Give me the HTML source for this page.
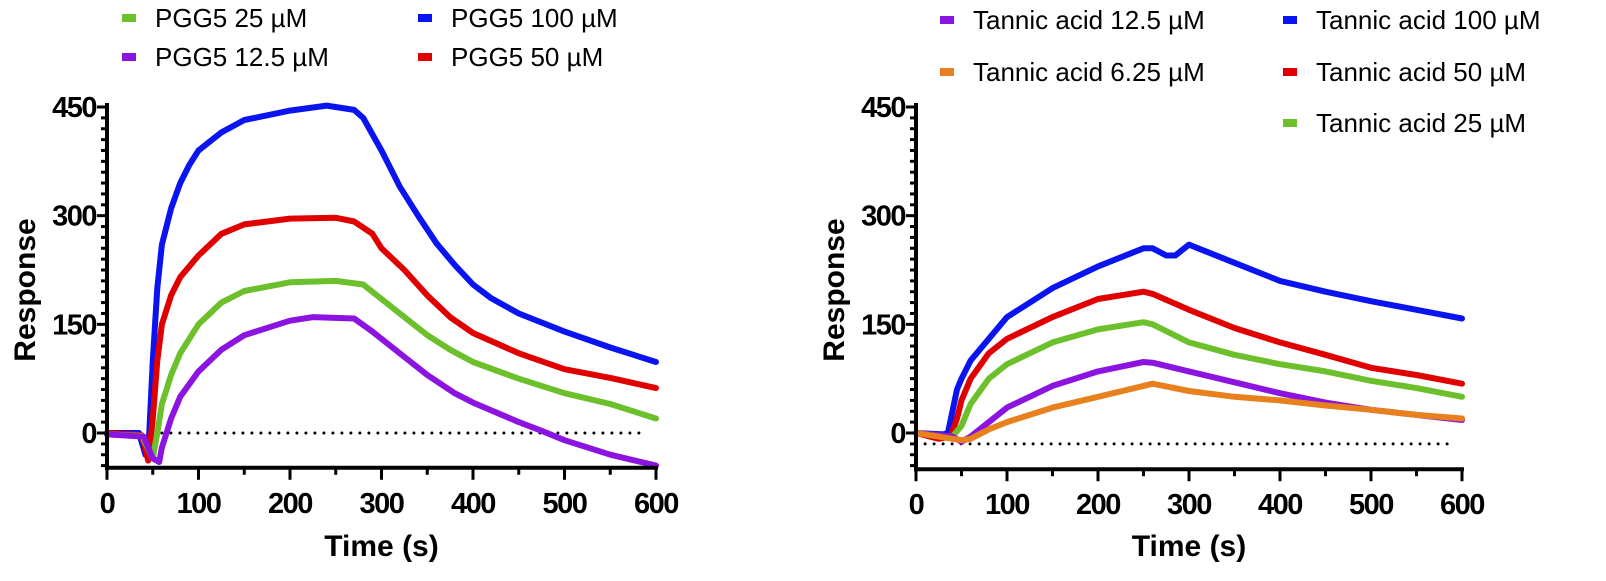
<!DOCTYPE html>
<html><head><meta charset="utf-8">
<style>
body{margin:0;background:#fff;}
svg{display:block;font-family:"Liberation Sans",sans-serif;}
.tk{font-weight:bold;font-size:29px;letter-spacing:-1.5px;}
.tt{font-weight:bold;font-size:30px;}
.lg{font-size:26px;}
</style></head>
<body>
<svg id="c" width="1606" height="581" viewBox="0 0 1606 581"></svg>
<script>
// Left panel (PGG5) data
const pggLabels = ["PGG5 100 µM","PGG5 50 µM","PGG5 25 µM","PGG5 12.5 µM"];
const pggColors = ["#0a14f0","#e00000","#6cc02c","#8c14e0"];
const pgg100 = [[0,0],[35,0],[42,-30],[45,-30],[50,100],[55,200],[60,260],[70,310],[80,345],[90,370],[100,390],[125,415],[150,432],[200,445],[240,452],[270,446],[280,435],[300,390],[320,340],[340,300],[360,262],[380,232],[400,205],[420,186],[450,165],[500,140],[550,118],[600,98]];
const pgg50 = [[0,0],[38,-3],[45,-38],[50,20],[55,100],[60,150],[70,190],[80,215],[100,245],[125,275],[150,288],[200,296],[250,297],[270,292],[290,275],[300,255],[325,225],[350,190],[375,160],[400,138],[450,110],[500,88],[550,76],[600,62]];
const pgg25 = [[0,-2],[38,-4],[50,-35],[55,0],[60,40],[70,80],[80,110],[100,150],[125,180],[150,196],[200,208],[250,210],[280,205],[300,185],[325,160],[350,135],[375,115],[400,98],[450,75],[500,55],[550,40],[600,20]];
const pgg12 = [[0,-2],[40,-5],[50,-35],[57,-40],[60,-20],[70,20],[80,50],[100,85],[125,115],[150,135],[200,155],[225,160],[270,158],[290,140],[320,110],[350,80],[380,55],[400,42],[450,15],[475,3],[500,-10],[550,-30],[600,-45]];
// Right panel (Tannic acid) data
const taLabels = ["Tannic acid 100 µM","Tannic acid 50 µM","Tannic acid 25 µM","Tannic acid 12.5 µM","Tannic acid 6.25 µM"];
const taColors = ["#0a14f0","#e00000","#6cc02c","#8c14e0","#e8801e"];
const ta100 = [[0,0],[30,-2],[35,0],[45,60],[50,75],[60,100],[80,130],[100,160],[125,180],[150,200],[200,230],[250,255],[260,255],[275,245],[285,245],[300,260],[310,255],[350,235],[400,210],[450,195],[500,182],[550,170],[600,158]];
const ta50 = [[0,0],[25,-8],[38,-5],[45,20],[50,45],[60,75],[80,110],[100,130],[150,160],[200,185],[250,195],[260,192],[300,170],[350,145],[400,125],[450,108],[500,90],[550,80],[600,68]];
const ta25 = [[0,0],[40,-5],[50,10],[60,40],[80,75],[100,95],[150,125],[200,143],[250,153],[260,150],[300,125],[350,108],[400,95],[450,85],[500,72],[550,62],[600,50]];
const ta12 = [[0,0],[40,-5],[50,-12],[60,-5],[80,15],[100,35],[150,65],[200,85],[250,98],[260,97],[300,85],[350,70],[400,55],[450,42],[500,32],[550,25],[600,18]];
const ta6 = [[0,0],[50,-10],[60,-8],[80,5],[100,15],[150,35],[200,50],[250,65],[260,68],[300,58],[350,50],[400,45],[450,38],[500,32],[550,25],[600,20]];
const xTicks = [0,100,200,300,400,500,600];
const yTicks = [0,150,300,450];

const NS="http://www.w3.org/2000/svg";
const svg=document.getElementById('c');
function el(t,a,p){const e=document.createElementNS(NS,t);for(const k in a)e.setAttribute(k,a[k]);(p||svg).appendChild(e);return e;}

function panel(name,x0,x1,yBot,refY,series,colors,labels){
  const g=el('g',{});
  
  
  const y0=433,y450=107;
  const sx=v=>x0+(v/600)*(x1-x0);
  const sy=v=>y0-(v/450)*(y0-y450);
  const axB=sy(yBot);
  const d=el('line',{x1:sx(refY[1]),x2:sx(refY[2]),y1:sy(refY[0]),y2:sy(refY[0]),stroke:'#000','stroke-width':3,'stroke-dasharray':'0 9','stroke-linecap':'round'},g);
  
  
  series.forEach((s,i)=>{
    const p=el('polyline',{points:s.map(q=>sx(q[0]).toFixed(1)+','+sy(q[1]).toFixed(1)).join(' '),fill:'none',stroke:colors[i],'stroke-width':6,'stroke-linejoin':'round','stroke-linecap':'round'},g);
    
    
  });
  el('line',{x1:x0,x2:x0,y1:y450-4,y2:axB+2,stroke:'#000','stroke-width':4},g);
  el('line',{x1:x0-2,x2:x1+2,y1:axB,y2:axB,stroke:'#000','stroke-width':4},g);
  for(let v=-45;v<=450;v+=15){
    if(sy(v)>axB)continue;
    const maj=v%150===0;
    el('line',{x1:x0-(maj?10:6),x2:x0,y1:sy(v),y2:sy(v),stroke:'#000','stroke-width':3},g);
  }
  yTicks.forEach(v=>{const t=el('text',{x:x0-11,y:sy(v)+10,'text-anchor':'end',class:'tk'},g);t.textContent=v;
    });
  for(let v=0;v<=600;v+=50){
    const maj=v%100===0;
    el('line',{x1:sx(v),x2:sx(v),y1:axB,y2:axB+(maj?12:7),stroke:'#000','stroke-width':3},g);
  }
  xTicks.forEach(v=>{const t=el('text',{x:sx(v),y:axB+45,'text-anchor':'middle',class:'tk'},g);t.textContent=v;
    });
  const xt=el('text',{x:(x0+x1)/2,y:556,'text-anchor':'middle',class:'tt'},g);xt.textContent='Time (s)';
  
  const cy=290,cx=x0-72;
  const yt=el('text',{x:cx,y:cy,'text-anchor':'middle',class:'tt',transform:`rotate(-90 ${cx} ${cy})`},g);yt.textContent='Response';
  
}
panel('pgg5-panel',107,656,-48,[0,60,590],[pgg100,pgg50,pgg25,pgg12],pggColors,pggLabels);
panel('tannic-acid-panel',916,1462,-50,[-15,10,590],[ta100,ta50,ta25,ta12,ta6],taColors,taLabels);

function legend(x,y,color,label){
  const g=el('g',{});
  
  
  el('rect',{x:x,y:y-4,width:14,height:8,fill:color},g);
  const t=el('text',{x:x+33,y:y+9,class:'lg'},g);t.textContent=label;
}
legend(122,18,pggColors[2],pggLabels[2]);
legend(418,18,pggColors[0],pggLabels[0]);
legend(122,57,pggColors[3],pggLabels[3]);
legend(418,57,pggColors[1],pggLabels[1]);
legend(940,20,taColors[3],taLabels[3]);
legend(1283,20,taColors[0],taLabels[0]);
legend(940,72,taColors[4],taLabels[4]);
legend(1283,72,taColors[1],taLabels[1]);
legend(1283,123,taColors[2],taLabels[2]);
</script>
</body></html>
